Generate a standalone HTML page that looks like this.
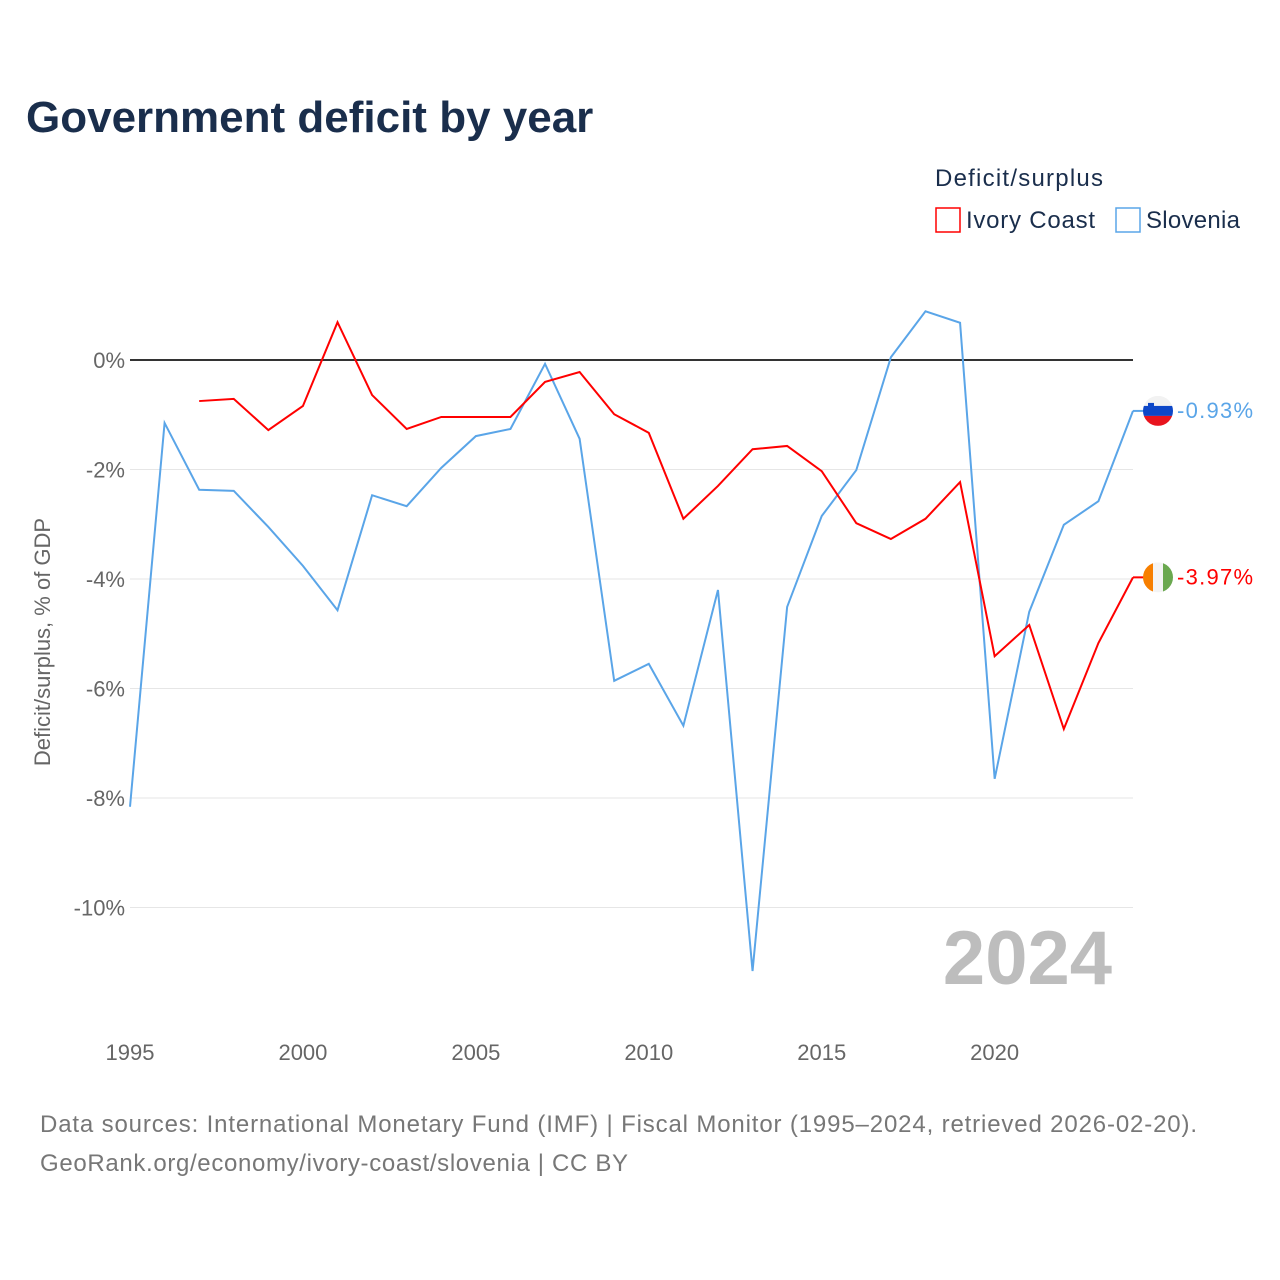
<!DOCTYPE html>
<html><head><meta charset="utf-8">
<style>
body{margin:0;background:#fff;font-family:"Liberation Sans",sans-serif;}
#wrap{position:relative;width:1280px;height:1280px;overflow:hidden;}
</style></head>
<body>
<div id="wrap">
<svg id="chart" width="1280" height="1280"></svg>
</div>
<script>
const years=[1995,1996,1997,1998,1999,2000,2001,2002,2003,2004,2005,2006,2007,2008,2009,2010,2011,2012,2013,2014,2015,2016,2017,2018,2019,2020,2021,2022,2023,2024];
const slovenia=[-8.16,-1.15,-2.37,-2.39,-3.05,-3.76,-4.57,-2.47,-2.67,-1.97,-1.39,-1.26,-0.07,-1.44,-5.86,-5.55,-6.68,-4.2,-11.16,-4.51,-2.85,-2.01,0.05,0.89,0.68,-7.65,-4.6,-3.01,-2.58,-0.93];
const ivoryYears=[1997,1998,1999,2000,2001,2002,2003,2004,2005,2006,2007,2008,2009,2010,2011,2012,2013,2014,2015,2016,2017,2018,2019,2020,2021,2022,2023,2024];
const ivory=[-0.75,-0.71,-1.28,-0.84,0.69,-0.64,-1.26,-1.04,-1.04,-1.04,-0.4,-0.22,-0.99,-1.33,-2.9,-2.3,-1.63,-1.57,-2.03,-2.98,-3.27,-2.9,-2.23,-5.41,-4.84,-6.74,-5.17,-3.97];
const yTicks=[0,-2,-4,-6,-8,-10];
const xTicks=[1995,2000,2005,2010,2015,2020];

const NS="http://www.w3.org/2000/svg";
const svg=document.getElementById('chart');
const x=v=>130+(v-1995)*(1133-130)/29;
const y=v=>360-v*54.75;
function mk(tag,attrs,parent){const e=document.createElementNS(NS,tag);for(const k in attrs)e.setAttribute(k,attrs[k]);(parent||svg).appendChild(e);return e;}
function txt(s,attrs){const e=mk('text',attrs);e.textContent=s;return e;}

let t=txt('Government deficit by year',{x:26,y:132,'font-size':44,'font-weight':'bold',fill:'#1a2e4c'});

t=txt('Deficit/surplus',{x:935,y:186,'font-size':24,fill:'#1a2e4c',textLength:168});

let r=mk('rect',{x:936,y:208,width:24,height:24,fill:'none',stroke:'#ff0000','stroke-width':1.5});

t=txt('Ivory Coast',{x:966,y:228,'font-size':24,fill:'#1a2e4c',textLength:129});

r=mk('rect',{x:1116,y:208,width:24,height:24,fill:'none',stroke:'#5aa5e8','stroke-width':1.5});

t=txt('Slovenia',{x:1146,y:228,'font-size':24,fill:'#1a2e4c',textLength:94});


yTicks.forEach(v=>{
  const l=mk('line',{x1:130,x2:1133,y1:y(v),y2:y(v),stroke:v===0?'#333':'#e6e6e6','stroke-width':v===0?2:1});
  
  const tl=txt(v+'%',{x:125,y:y(v)+8,'font-size':22,fill:'#666','text-anchor':'end'});
  
});
xTicks.forEach(v=>{
  const tl=txt(String(v),{x:x(v),y:1060,'font-size':22,fill:'#666','text-anchor':'middle'});
  
});
t=txt('Deficit/surplus, % of GDP',{x:0,y:0,'font-size':22,fill:'#666','text-anchor':'middle',transform:'translate(50,642) rotate(-90)'});

t=txt('2024',{x:1112,y:984,'font-size':76,'font-weight':'bold',fill:'#bdbdbd','text-anchor':'end'});


let p=mk('path',{d:years.map((yr,i)=>(i?'L':'M')+x(yr)+','+y(slovenia[i])).join(''),fill:'none',stroke:'#5aa5e8','stroke-width':2});

p=mk('path',{d:ivoryYears.map((yr,i)=>(i?'L':'M')+x(yr)+','+y(ivory[i])).join(''),fill:'none',stroke:'#ff0000','stroke-width':2});


const sy=y(slovenia[slovenia.length-1]), iy=y(ivory[ivory.length-1]);
mk('line',{x1:1133,x2:1144,y1:sy,y2:sy,stroke:'#5aa5e8','stroke-width':2});
mk('line',{x1:1133,x2:1144,y1:iy,y2:iy,stroke:'#ff0000','stroke-width':2});
const g1=mk('g',{});
mk('clipPath',{id:'c1'}).appendChild(document.createElementNS(NS,'circle'));
const c1=document.querySelector('#c1 circle');c1.setAttribute('cx',1158);c1.setAttribute('cy',sy);c1.setAttribute('r',15);
mk('rect',{x:1143,y:sy-15,width:30,height:10,fill:'#f2f2f2','clip-path':'url(#c1)'},g1);
mk('rect',{x:1143,y:sy-5,width:30,height:10,fill:'#0d47c8','clip-path':'url(#c1)'},g1);
mk('rect',{x:1143,y:sy+5,width:30,height:10,fill:'#e8141e','clip-path':'url(#c1)'},g1);
mk('rect',{x:1148,y:sy-8,width:6,height:7,fill:'#0d47c8'},g1);
const g2=mk('g',{});
mk('clipPath',{id:'c2'}).appendChild(document.createElementNS(NS,'circle'));
const c2=document.querySelector('#c2 circle');c2.setAttribute('cx',1158);c2.setAttribute('cy',iy);c2.setAttribute('r',15);
mk('rect',{x:1143,y:iy-15,width:10,height:30,fill:'#f77f00','clip-path':'url(#c2)'},g2);
mk('rect',{x:1153,y:iy-15,width:10,height:30,fill:'#f4f4f4','clip-path':'url(#c2)'},g2);
mk('rect',{x:1163,y:iy-15,width:10,height:30,fill:'#6aa84f','clip-path':'url(#c2)'},g2);
t=txt(slovenia[slovenia.length-1].toFixed(2)+'%',{x:1177,y:sy+7,'font-size':22,fill:'#5aa5e8',textLength:76});

t=txt(ivory[ivory.length-1].toFixed(2)+'%',{x:1177,y:iy+7,'font-size':22,fill:'#ff0000',textLength:76});


t=txt('Data sources: International Monetary Fund (IMF) | Fiscal Monitor (1995–2024, retrieved 2026-02-20).',{x:40,y:1132,'font-size':24,fill:'#777',textLength:1157});

t=txt('GeoRank.org/economy/ivory-coast/slovenia | CC BY',{x:40,y:1171,'font-size':24,fill:'#777',textLength:588});

</script>
</body></html>
